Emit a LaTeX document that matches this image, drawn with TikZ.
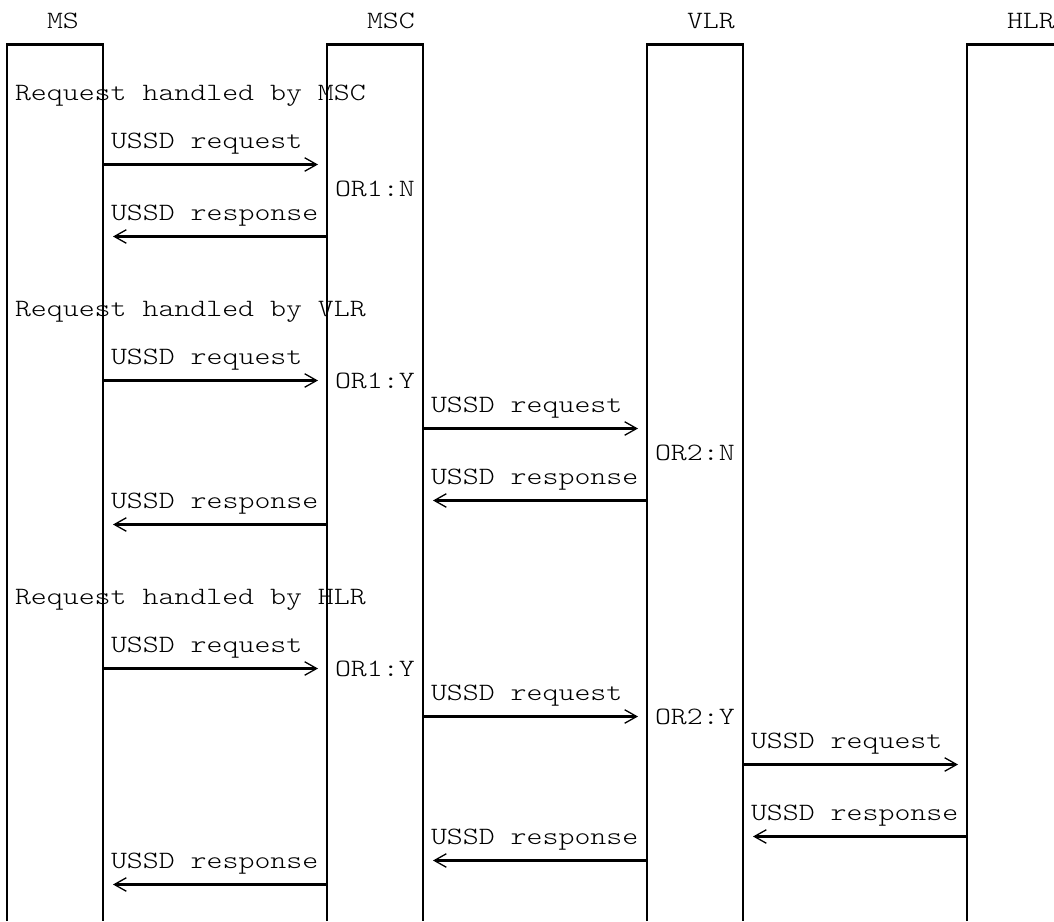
\documentclass[tikz,border=0pt]{standalone}
\usepackage{fontspec}
\newfontfamily\diagfont{Latin Modern Mono Light}[FakeStretch=1.22]
\usetikzlibrary{arrows.meta}
\begin{document}
\begin{tikzpicture}[x=1pt,y=-1pt,
  life/.style={line width=2.2pt, line cap=butt, line join=miter},
  msg/.style={line width=2.2pt, -{Straight Barb[length=12pt,width=13.5pt,line width=1.3pt]}},
  lbl/.style={anchor=base west, inner sep=0pt, outer sep=0pt,
              font=\fontsize{24.9pt}{24pt}\selectfont\diagfont}]
\useasboundingbox (0,0) rectangle (1054,921);

% lifeline corners and page bottom
\coordinate (bot)  at (0,921);
\coordinate (msL)  at (7,44.5);
\coordinate (msR)  at (103,44.5);
\coordinate (mscL) at (327,44.5);
\coordinate (mscR) at (423,44.5);
\coordinate (vlrL) at (647,44.5);
\coordinate (vlrR) at (743,44.5);
\coordinate (hlrL) at (967,44.5);
\coordinate (hlrE) at (1054,44.5);

% lifeline boxes
\draw[life] (msL |- bot) -- (msL) -- (msR) -- (msR |- bot);
\draw[life] (mscL |- bot) -- (mscL) -- (mscR) -- (mscR |- bot);
\draw[life] (vlrL |- bot) -- (vlrL) -- (vlrR) -- (vlrR |- bot);
\draw[life] (hlrL |- bot) -- (hlrL) -- (hlrE);

% arrow tips
\coordinate (a1) at (318,164.5);
\coordinate (a2) at (113,236.5);
\coordinate (b1) at (318,380.5);
\coordinate (b2) at (638,428.5);
\coordinate (b3) at (433,500.5);
\coordinate (b4) at (113,524.5);
\coordinate (c1) at (318,668.5);
\coordinate (c2) at (638,716.5);
\coordinate (c3) at (958,764.5);
\coordinate (c4) at (753,836.5);
\coordinate (c5) at (433,860.5);
\coordinate (c6) at (113,884.5);

% request handled by MSC
\draw[msg] (msR |- a1) -- (a1);
\draw[msg] (mscL |- a2) -- (a2);
% request handled by VLR
\draw[msg] (msR |- b1) -- (b1);
\draw[msg] (mscR |- b2) -- (b2);
\draw[msg] (vlrL |- b3) -- (b3);
\draw[msg] (mscL |- b4) -- (b4);
% request handled by HLR
\draw[msg] (msR |- c1) -- (c1);
\draw[msg] (mscR |- c2) -- (c2);
\draw[msg] (vlrR |- c3) -- (c3);
\draw[msg] (hlrL |- c4) -- (c4);
\draw[msg] (vlrL |- c5) -- (c5);
\draw[msg] (mscL |- c6) -- (c6);

% headers
\node[lbl] (hMS)  at (47,28)   {MS};
\node[lbl] (hMSC) at (367,28)  {MSC};
\node[lbl] (hVLR) at (687,28)  {VLR};
\node[lbl] (hHLR) at (1007,28) {HLR};

% labels
\node[lbl] (s1)  at (15,100)  {Request handled by MSC};
\node[lbl] (l1)  at (111,148) {USSD request};
\node[lbl] (o1)  at (335,196) {OR1:N};
\node[lbl] (l2)  at (111,220) {USSD response};

\node[lbl] (s2)  at (15,316)  {Request handled by VLR};
\node[lbl] (l3)  at (111,364) {USSD request};
\node[lbl] (o2)  at (335,388) {OR1:Y};
\node[lbl] (l4)  at (431,412) {USSD request};
\node[lbl] (o3)  at (655,460) {OR2:N};
\node[lbl] (l5)  at (431,484) {USSD response};
\node[lbl] (l6)  at (111,508) {USSD response};

\node[lbl] (s3)  at (15,604)  {Request handled by HLR};
\node[lbl] (l7)  at (111,652) {USSD request};
\node[lbl] (o4)  at (335,676) {OR1:Y};
\node[lbl] (l8)  at (431,700) {USSD request};
\node[lbl] (o5)  at (655,724) {OR2:Y};
\node[lbl] (l9)  at (751,748) {USSD request};
\node[lbl] (l10) at (751,820) {USSD response};
\node[lbl] (l11) at (431,844) {USSD response};
\node[lbl] (l12) at (111,868) {USSD response};
\end{tikzpicture}
\end{document}
